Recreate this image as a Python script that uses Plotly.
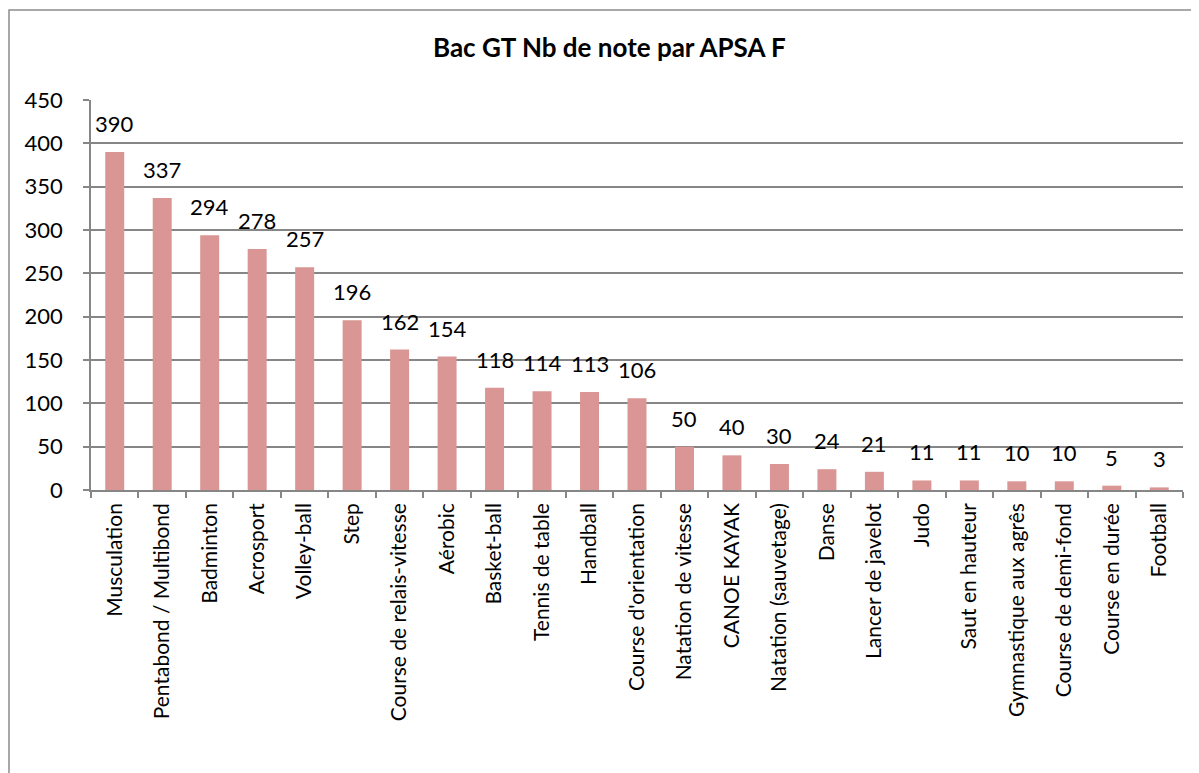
import plotly.graph_objects as go

categories = ["Musculation", "Pentabond / Multibond", "Badminton", "Acrosport", "Volley-ball",
              "Step", "Course de relais-vitesse", "Aérobic", "Basket-ball", "Tennis de table",
              "Handball", "Course d'orientation", "Natation de vitesse", "CANOE KAYAK",
              "Natation (sauvetage)", "Danse", "Lancer de javelot", "Judo", "Saut en hauteur",
              "Gymnastique aux agrês", "Course de demi-fond", "Course en durée", "Football"]
values = [390, 337, 294, 278, 257, 196, 162, 154, 118, 114, 113, 106, 50, 40, 30, 24, 21,
          11, 11, 10, 10, 5, 3]
y_ticks = [0, 50, 100, 150, 200, 250, 300, 350, 400, 450]
title = "Bac GT Nb de note par APSA F"

FONT = "Lato"
bar_color = "#D99694"
grid_color = "#868686"

fig = go.Figure()
fig.add_trace(go.Bar(x=categories, y=values, marker=dict(color=bar_color, line=dict(width=0)),
                     width=0.4, hoverinfo="x+y"))

annotations = [dict(x=c, y=v, xref="x", yref="y", text=str(v), showarrow=False,
                    yanchor="bottom", yshift=13, font=dict(family=FONT, size=22, color="black"))
               for c, v in zip(categories, values)]
annotations.append(dict(text="<b>" + title + "</b>", x=0.475, y=1.136, xref="paper", yref="paper",
                        xanchor="center", yanchor="middle", showarrow=False,
                        font=dict(family=FONT, size=26, color="black")))

fig.update_layout(
    width=1199, height=773,
    margin=dict(l=83, r=24, t=92, b=291),
    plot_bgcolor="white", paper_bgcolor="white",
    showlegend=False,
    font=dict(family=FONT, size=21, color="black"),
    annotations=annotations,
    shapes=[dict(type="rect", xref="paper", yref="paper", x0=-82.0 / 1092, x1=1.2, y0=-2,
                 y1=1.2308, line=dict(color="#8c8c8c", width=1.5),
                 fillcolor="rgba(0,0,0,0)", layer="below")],
)

fig.update_xaxes(
    type="category", showgrid=False, showline=True, linecolor=grid_color, linewidth=1.5,
    ticks="outside", tickson="boundaries", ticklen=6, tickcolor=grid_color, tickwidth=1.5,
    tickangle=-90, tickfont=dict(family=FONT, size=21, color="black"), ticklabelstandoff=3,
)
fig.update_yaxes(
    range=[0, 450], tickvals=y_ticks, showgrid=True, gridcolor=grid_color, gridwidth=1.5,
    showline=True, linecolor=grid_color, linewidth=1.5, zeroline=False,
    ticks="outside", ticklen=6, tickcolor=grid_color, tickwidth=1.5,
    tickfont=dict(family=FONT, size=22, color="black"), ticklabelstandoff=16,
)

fig.write_html("out.html")
